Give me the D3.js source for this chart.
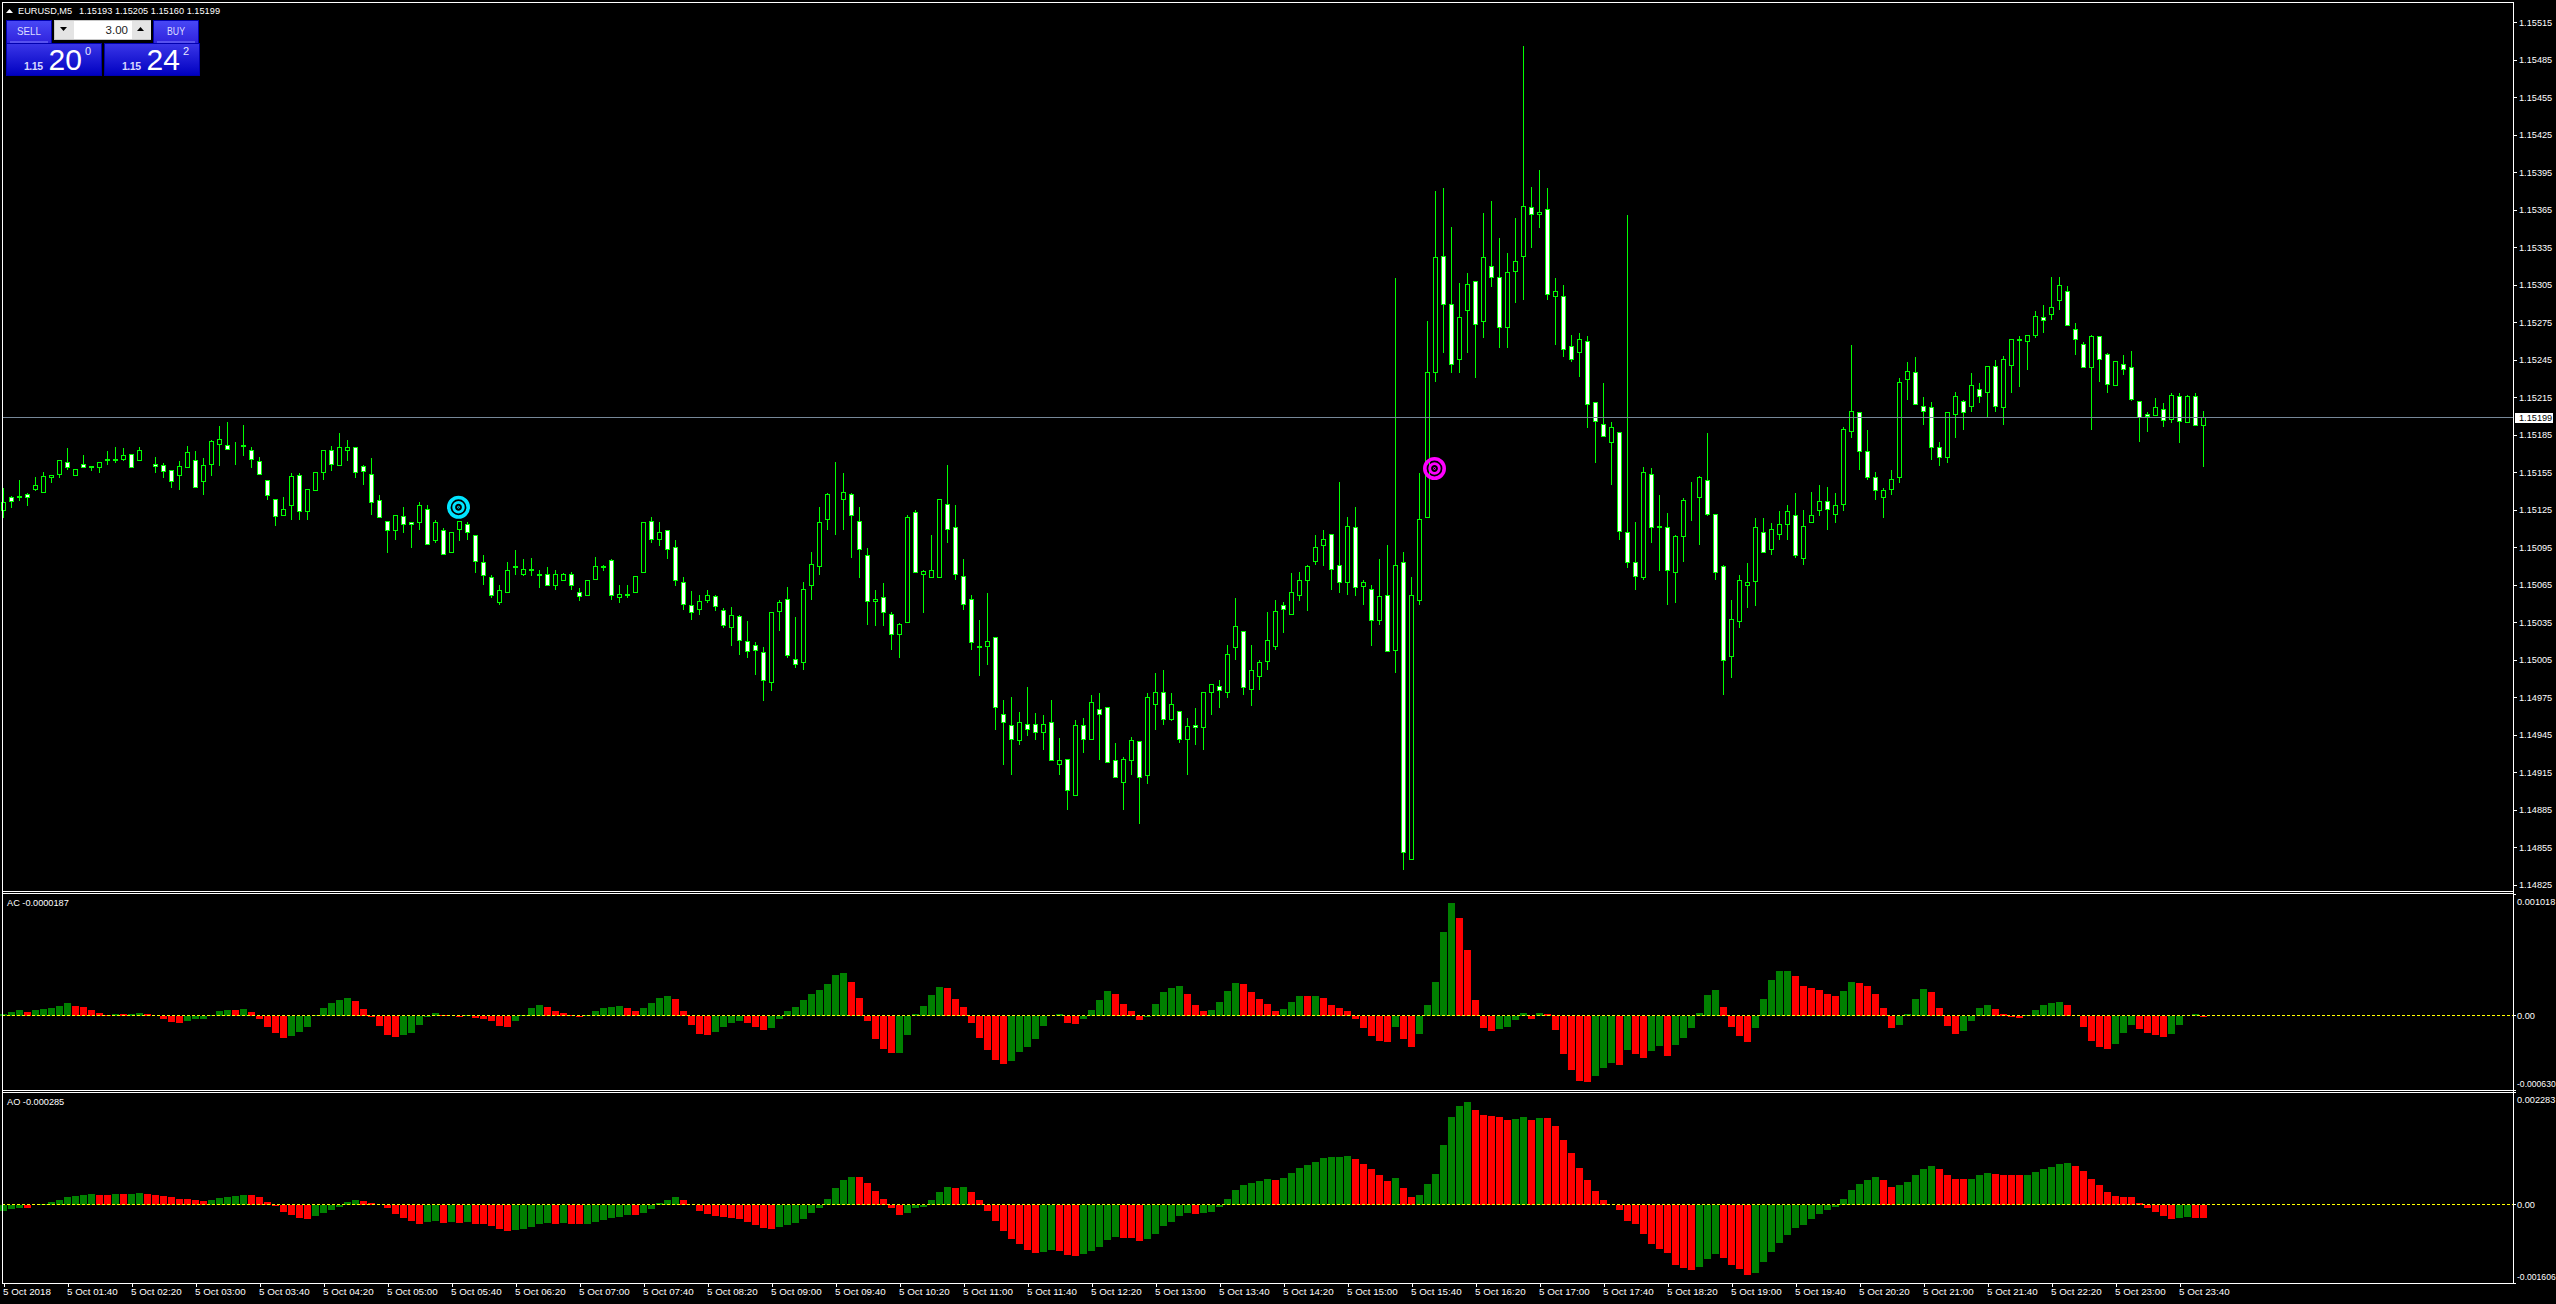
<!DOCTYPE html>
<html>
<head>
<meta charset="utf-8">
<title>EURUSD,M5</title>
<script src="https://cdn.jsdelivr.net/npm/d3@7"></script>
<style>
  html, body { margin: 0; padding: 0; background: #000; overflow: hidden; }
  text { font-family: "Liberation Sans", Arial, sans-serif; fill: #fff; }
  .axis text { font-size: 9.2px; }
  .timeaxis text { font-size: 9.8px; }
</style>
</head>
<body>
<div id="chart"></div>
<script>
// prices are in points above 1.15000, one value per M5 bar
const opens = [
  125,135,135,138,142,139,151,154,163,153, 162,159,159,165,165,166,170,165,168,162,
  161,157,153,159,165,148,162,178,177,175, 176,173,164,149,134,121,129,153,124,141,
  155,173,161,173,175,160,154,133,116,109, 120,115,115,126,101,109,91,110,114,105,
  83,71,51,59,79,74,77,73,74,65, 69,74,59,57,70,79,85,55,57,59,
  75,116,102,109,95,67,49,46,53,56, 45,31,40,20,17,11,-13,44,54,6,
  3,65,80,118,133,134,138,116,89,52, 55,42,26,35,123,74,71,71,130,111,
  72,54,15,16,23,-38,-47,-59,-46,-46, -53,-45,-78,-74,-103,-47,-58,-34,-33,-75,
  -93,-75,-60,-87,-30,-21,-42,-36,-58,-47, -49,-21,-16,-21,15,28,-18,-8,4,16,
  49,42,57,69,84,97,106,81,67,111, 64,62,37,57,13,83,-154,53,119,235,
  328,290,246,285,308,276,320,311,271,316, 328,367,362,366,296,296,256,251,260,211,
  194,179,187,107,83,71,154,111,111,75, 104,138,135,149,122,80,8,36,65,68,
  107,94,106,114,121,86,115,125,132,122, 130,188,203,172,151,135,142,151,230,235,
  208,207,175,167,202,212,208,222,219,240, 207,241,262,260,265,279,282,293,300,270,
  258,239,264,250,225,242,239,212,202,201, 206,198,216,195,216,193
];
const highs = [
  143,137,150,139,152,156,154,165,175,158, 170,160,164,173,176,175,170,176,168,168,
  163,158,165,177,173,167,182,193,196,180, 194,176,168,149,134,136,155,155,142,155,
  173,177,187,182,175,162,167,138,116,121, 128,115,132,130,118,111,107,116,116,105,
  90,74,66,84,94,86,87,78,80,78, 75,76,63,69,88,82,86,66,66,72,
  116,120,116,109,102,72,61,58,62,58, 47,48,42,37,20,16,44,54,64,40,
  68,92,128,139,164,155,139,128,95,62, 67,44,35,122,126,78,106,134,162,130,
  86,58,38,59,23,-26,-24,-36,-16,-37, -38,-26,-57,-74,-42,-41,-22,-21,-32,-61,
  -72,-56,-60,-21,-5,-2,-21,-36,-41,-33, -21,-14,-10,18,55,29,18,6,44,54,
  52,75,76,82,106,110,106,148,120,128, 70,66,86,98,311,92,72,155,277,381,
  383,352,307,315,308,363,373,343,331,359, 497,384,398,383,311,306,266,267,265,211,
  227,196,187,362,116,160,159,138,123,106, 135,148,153,187,122,82,54,74,83,119,
  119,115,125,130,139,126,140,146,144,139, 192,258,203,190,156,143,158,231,244,248,
  216,212,180,203,220,214,235,227,241,246, 249,262,265,266,285,290,312,312,305,275,
  260,266,264,251,244,250,253,213,204,215, 211,219,219,218,219,205
];
const lows = [
  119,127,133,129,141,139,147,151,158,153, 159,157,155,162,163,165,159,165,168,155,
  151,143,142,159,143,138,153,161,174,162, 169,159,154,134,113,121,118,118,118,141,
  150,157,161,165,151,146,122,119,91,102, 107,95,110,98,99,90,91,101,102,75,
  66,55,50,59,74,73,73,63,65,62, 69,62,53,57,70,77,54,51,55,59,
  75,99,97,86,65,46,38,42,51,45, 31,17,10,7,-6,-27,-19,29,7,-1,
  -2,54,74,110,106,110,87,71,34,33, 33,14,7,35,75,43,71,71,99,70,
  46,14,-7,2,-50,-78,-86,-62,-55,-58, -66,-75,-86,-114,-103,-69,-58,-74,-77,-89,
  -114,-86,-126,-94,-50,-46,-43,-61,-86,-62, -66,-38,-33,-25,6,-22,-31,-18,-2,14,
  27,42,53,45,82,81,62,59,58,57, 50,17,34,12,-5,-162,-154,50,119,228,
  251,235,235,251,231,263,304,255,255,291, 294,335,351,294,258,248,244,232,191,163,
  184,146,102,79,62,70,99,77,50,51, 84,117,98,121,70,-22,-9,31,47,49,
  91,90,102,102,87,82,115,121,110,115, 125,183,158,150,134,119,138,147,214,210,
  194,166,161,163,183,190,204,211,199,204, 194,219,224,238,263,267,278,286,273,250,
  239,190,228,219,225,234,213,180,188,201, 192,195,179,195,193,160
];
const closes = [
  131,132,136,135,145,152,153,165,159,158, 159,160,163,166,166,169,159,173,168,160,
  156,148,160,171,143,161,180,182,174,175, 177,166,154,137,120,126,152,124,142,155,
  173,162,175,175,155,156,131,119,109,121, 114,114,129,98,115,90,107,116,107,84,
  73,57,61,77,80,78,78,74,65,74, 74,65,56,69,80,80,57,58,58,72,
  115,102,107,94,69,50,43,52,57,48, 33,41,21,12,13,-11,43,51,9,2,
  62,82,115,138,133,139,121,94,52,54, 43,26,34,119,75,76,77,134,110,74,
  50,19,16,20,-33,-45,-58,-45,-50,-53, -46,-75,-75,-99,-47,-58,-29,-38,-77,-89,
  -74,-59,-89,-25,-21,-42,-30,-58,-48,-49, -21,-14,-19,10,32,-17,-3,3,21,44,
  46,59,69,80,95,102,78,67,112,63, 67,37,56,12,81,-149,57,118,235,327,
  290,242,279,306,274,327,311,271,315,324, 368,362,363,298,300,254,246,262,210,196,
  184,191,108,83,72,155,111,112,77,104, 133,138,151,122,75,5,38,69,67,111,
  91,110,114,124,89,112,121,132,126,129, 190,204,172,151,141,141,150,227,236,210,
  204,175,167,203,216,203,225,216,240,208, 246,262,261,265,280,277,287,305,273,262,
  239,264,246,226,244,238,214,199,200,207, 197,217,196,216,193,199
];

// indicator values, in millionths
const acValues = [
  6,28,45,28,45,53,62,78,104,78, 70,45,20,3,11,8,11,20,11,-11,
  -36,-56,-64,-48,-36,-34,0,36,45,44, 53,28,-31,-98,-148,-190,-174,-140,-98,0,
  62,104,129,146,120,53,-14,-90,-168,-182, -165,-148,-81,-14,20,-3,-4,-14,0,-22,
  -31,-48,-90,-98,-48,0,62,87,70,36, 20,3,-14,0,36,62,70,78,62,36,
  62,104,146,162,137,36,-81,-157,-165,-140, -98,-64,-48,-64,-98,-123,-106,-31,36,70,
  129,179,213,263,339,356,280,146,-48,-199, -283,-316,-315,-165,11,78,171,238,230,137,
  70,-64,-190,-291,-375,-409,-384,-308,-266,-199, -90,-11,11,-64,-73,-31,45,129,204,179,
  95,36,-39,-20,95,196,230,246,179,87, 36,45,112,204,272,263,196,137,95,36,
  53,112,162,160,162,146,87,62,36,-31, -106,-174,-216,-224,-98,-199,-266,-157,87,280,
  700,944,818,549,129,-106,-132,-115,-98,-39, 20,-31,20,11,-123,-325,-459,-552,-560,-510,
  -442,-400,-417,-291,-325,-358,-300,-258,-342,-249, -190,-106,20,171,213,70,-98,-174,-224,-106,
  137,297,372,373,330,246,230,213,179,162, 204,280,272,246,179,62,-106,-81,11,137,
  221,196,62,-90,-157,-132,-48,62,87,53, 11,-20,-21,0,45,87,104,112,87,-11,
  -98,-216,-266,-283,-241,-148,-81,-115,-148,-165, -182,-157,-81,-11,11,-19
];
const aoValues = [
  -136,-95,-75,-76,-20,7,48,88,149,170, 190,210,190,183,210,204,210,231,210,190,
  170,149,109,102,88,68,88,129,149,156, 190,183,149,48,-48,-156,-217,-278,-299,-238,
  -177,-115,-54,48,88,68,27,-14,-75,-197, -278,-340,-401,-360,-353,-380,-373,-380,-373,-401,
  -407,-441,-502,-543,-536,-502,-462,-401,-394,-401, -394,-401,-407,-401,-360,-319,-278,-258,-217,-224,
  -177,-95,20,88,149,88,-20,-136,-197,-238, -258,-278,-306,-360,-421,-482,-502,-462,-421,-380,
  -299,-177,-75,109,333,496,557,550,435,272, 109,-75,-217,-177,-75,-54,88,251,353,333,
  340,251,88,-136,-340,-543,-706,-808,-930,-991, -971,-930,-951,-1032,-1052,-1012,-951,-869,-727,-665,
  -686,-693,-747,-706,-604,-441,-360,-238,-190,-197, -190,-156,-54,109,292,394,435,475,516,496,
  536,638,740,801,862,944,951,964,971,923, 822,720,598,475,536,333,149,190,414,618,
  1209,1779,2003,2085,1922,1820,1799,1779,1718,1738, 1779,1718,1759,1752,1596,1310,1046,740,496,272,
  88,-20,-115,-340,-401,-604,-808,-910,-991,-1236, -1297,-1338,-1277,-1114,-1012,-1093,-1236,-1317,-1439,-1399,
  -1175,-971,-788,-625,-482,-421,-299,-197,-115,-54, 109,292,414,496,557,496,353,394,455,598,
  720,781,720,598,516,502,516,598,638,618, 598,591,584,598,659,720,760,822,842,781,
  679,516,394,251,170,149,143,20,-75,-156, -238,-299,-292,-258,-275,-285
];

const priceTicks = [515,485,455,425,395,365,335,305,275,245,215,185,155,125,95,65,35,5,-25,-55,-85,-115,-145,-175];
const timeTicks = [0,8,16,24,32,40,48,56,64,72,80,88,96,104,112,120,128,136,144,152,160,168,176,184,192,200,208,216,224,232,240,248,256,264,272];
const timeLabels = ['5 Oct 2018','5 Oct 01:40','5 Oct 02:20','5 Oct 03:00','5 Oct 03:40','5 Oct 04:20','5 Oct 05:00','5 Oct 05:40','5 Oct 06:20','5 Oct 07:00','5 Oct 07:40','5 Oct 08:20','5 Oct 09:00','5 Oct 09:40','5 Oct 10:20','5 Oct 11:00','5 Oct 11:40','5 Oct 12:20','5 Oct 13:00','5 Oct 13:40','5 Oct 14:20','5 Oct 15:00','5 Oct 15:40','5 Oct 16:20','5 Oct 17:00','5 Oct 17:40','5 Oct 18:20','5 Oct 19:00','5 Oct 19:40','5 Oct 20:20','5 Oct 21:00','5 Oct 21:40','5 Oct 22:20','5 Oct 23:00','5 Oct 23:40'];
const bidPoints = 199;
const targetBars = [57, 179];
const targetPoints = [127, 158];
const targetColors = ['#00e5ff', '#ff00ff'];

const width = 2556, height = 1304;
const plotLeft = 2, plotRight = 2513;

const svg = d3.select('#chart').append('svg')
  .attr('width', width)
  .attr('height', height)
  .style('display', 'block');

const x = d3.scaleLinear().domain([0, 276]).range([3.5, 3.5 + 8 * 276]);
const yMain = d3.scaleLinear().domain([-180, 531.2]).range([891, 2]);
const yAc = d3.scaleLinear().domain([-630, 1018]).range([1090, 894]);
const yAo = d3.scaleLinear().domain([-1606, 2283]).range([1283, 1092]);

const snap = v => Math.round(v) + 0.5;
const priceLabel = p => ((115000 + p) / 100000).toFixed(5);

// candles: wick first, body on top of it
const candles = svg.append('g').selectAll('g')
  .data(d3.range(opens.length))
  .join('g');
candles.append('line')
  .attr('x1', x).attr('x2', x)
  .attr('y1', i => snap(yMain(highs[i])))
  .attr('y2', i => snap(yMain(lows[i])) + 0.5)
  .attr('stroke', '#00ff00')
  .attr('shape-rendering', 'crispEdges');
candles.append('rect')
  .attr('x', i => x(i) - 2)
  .attr('width', 4)
  .attr('y', i => snap(yMain(Math.max(opens[i], closes[i]))))
  .attr('height', i => Math.round(yMain(Math.min(opens[i], closes[i]))) - Math.round(yMain(Math.max(opens[i], closes[i]))))
  .attr('fill', i => closes[i] < opens[i] ? '#fff' : '#000')
  .attr('stroke', '#00ff00')
  .attr('shape-rendering', 'crispEdges');

// bid line
svg.append('line')
  .attr('x1', plotLeft).attr('x2', plotRight)
  .attr('y1', snap(yMain(bidPoints))).attr('y2', snap(yMain(bidPoints)))
  .attr('stroke', '#778899');

// target objects on the chart
targetBars.forEach((bar, i) => {
  const t = svg.append('g')
    .attr('transform', `translate(${x(bar) - 1},${yMain(targetPoints[i])})`)
    .attr('fill', 'none')
    .attr('stroke', targetColors[i]);
  t.append('circle').attr('r', 9.7).attr('stroke-width', 3.6);
  t.append('circle').attr('r', 4.8).attr('stroke-width', 2.8);
  t.append('circle').attr('r', 1).attr('stroke-width', 1);
});

// AC and AO histograms, bar colour follows the direction of the value
function drawHistogram(values, y) {
  const zero = snap(y(0));
  svg.append('g').selectAll('rect')
    .data(values)
    .join('rect')
    .attr('x', (d, i) => x(i) - 3.5)
    .attr('width', 7)
    .attr('y', d => Math.min(Math.round(y(d)), zero))
    .attr('height', d => Math.abs(Math.round(y(d)) - zero))
    .attr('fill', (d, i) => (i === 0 || d > values[i - 1]) ? '#008000' : '#ff0000')
    .attr('shape-rendering', 'crispEdges');
  svg.append('line')
    .attr('x1', plotLeft).attr('x2', plotRight)
    .attr('y1', zero).attr('y2', zero)
    .attr('stroke', '#ffff00')
    .attr('stroke-dasharray', '3 2');
}
drawHistogram(acValues, yAc);
drawHistogram(aoValues, yAo);

// window frames
[2, 891, 893, 1090, 1092, 1283].forEach(v => {
  svg.append('line')
    .attr('x1', plotLeft).attr('x2', plotRight)
    .attr('y1', v + 0.5).attr('y2', v + 0.5)
    .attr('stroke', '#fff');
});
[plotLeft, plotRight].forEach(v => {
  svg.append('line')
    .attr('x1', v + 0.5).attr('x2', v + 0.5)
    .attr('y1', 2).attr('y2', 1284)
    .attr('stroke', '#fff');
});

// axes
function styleAxis(g) {
  g.select('.domain').remove();
  g.selectAll('.tick line').attr('stroke', '#fff').attr('shape-rendering', 'crispEdges');
  g.selectAll('.tick text').attr('fill', '#fff').style('fill', '#fff');
}

svg.append('g')
  .attr('class', 'axis')
  .attr('transform', `translate(${plotRight + 1},0)`)
  .call(d3.axisRight(yMain).tickValues(priceTicks).tickFormat(priceLabel).tickSize(3).tickPadding(2))
  .call(styleAxis);

function indicatorAxis(y, top, bottom) {
  const g = svg.append('g')
    .attr('class', 'axis')
    .attr('transform', `translate(${plotRight + 1},0)`)
    .call(d3.axisRight(y)
      .tickValues([top, 0, bottom])
      .tickFormat(v => v === 0 ? '0.00' : (v / 1e6).toFixed(6))
      .tickSize(2).tickPadding(1))
    .call(styleAxis);
  // first and last labels sit inside the window, the long negative one is a bit smaller to fit
  g.selectAll('.tick text')
    .attr('dy', v => v === top ? '1.1em' : v === bottom ? '-0.4em' : '0.32em')
    .style('font-size', v => v === bottom ? '8.6px' : null);
}
indicatorAxis(yAc, 1018, -630);
indicatorAxis(yAo, 2283, -1606);

svg.append('g')
  .attr('class', 'timeaxis')
  .attr('transform', 'translate(0,1283)')
  .call(d3.axisBottom(x)
    .tickValues(timeTicks)
    .tickFormat((d, i) => timeLabels[i])
    .tickSize(4).tickPadding(1))
  .call(styleAxis)
  .selectAll('.tick text')
  .attr('text-anchor', 'start')
  .attr('x', -1);

// bid label on the price axis
svg.append('rect')
  .attr('x', 2515).attr('y', 413)
  .attr('width', 38).attr('height', 10)
  .attr('fill', '#fff');
svg.append('text')
  .attr('x', 2519).attr('y', yMain(bidPoints) + 3.4)
  .style('font-size', '9.2px')
  .style('fill', '#000')
  .text(priceLabel(bidPoints));

// window headers
svg.append('path')
  .attr('d', 'M6,13 L9.5,9 L13,13 Z')
  .attr('fill', '#fff');
svg.append('text')
  .attr('x', 18).attr('y', 14)
  .style('font-size', '9.2px')
  .text('EURUSD,M5');
svg.append('text')
  .attr('x', 79).attr('y', 14)
  .style('font-size', '9.2px')
  .attr('textLength', 141)
  .text('1.15193 1.15205 1.15160 1.15199');
svg.append('text')
  .attr('x', 7).attr('y', 905.5)
  .style('font-size', '9.2px')
  .text('AC -0.0000187');
svg.append('text')
  .attr('x', 7).attr('y', 1105)
  .style('font-size', '9.2px')
  .text('AO -0.000285');

// one click trading panel
const defs = svg.append('defs');
function gradient(id, top, bottom) {
  const g = defs.append('linearGradient').attr('id', id).attr('x1', 0).attr('y1', 0).attr('x2', 0).attr('y2', 1);
  g.append('stop').attr('offset', 0).attr('stop-color', top);
  g.append('stop').attr('offset', 1).attr('stop-color', bottom);
}
gradient('headGrad', '#4848f6', '#2f22dc');
gradient('quoteGrad', '#3a36e8', '#0000c0');

const panel = svg.append('g');
function tradeHead(left, label) {
  panel.append('rect')
    .attr('x', left + 0.5).attr('y', 20.5)
    .attr('width', 45).attr('height', 23)
    .attr('fill', 'url(#headGrad)')
    .attr('stroke', '#0000b0');
  panel.append('line')
    .attr('x1', left + 4).attr('x2', left + 42)
    .attr('y1', 42).attr('y2', 42)
    .attr('stroke', '#8080ff');
  panel.append('text')
    .attr('x', left + 23).attr('y', 35)
    .attr('text-anchor', 'middle')
    .style('font-size', '11.5px')
    .style('fill', '#dcdcff')
    .attr('textLength', label.length * 6)
    .attr('lengthAdjust', 'spacingAndGlyphs')
    .text(label);
}
tradeHead(6, 'SELL');
tradeHead(153, 'BUY');

function quote(left, big, small) {
  panel.append('rect')
    .attr('x', left + 0.5).attr('y', 43.5)
    .attr('width', 95).attr('height', 32)
    .attr('fill', 'url(#quoteGrad)')
    .attr('stroke', '#0000b0');
  panel.append('text')
    .attr('x', left + 18).attr('y', 70)
    .style('font-size', '10.5px')
    .style('font-weight', 'bold')
    .style('fill', '#d8d8ff')
    .attr('textLength', 19)
    .text('1.15');
  panel.append('text')
    .attr('x', left + 42.5).attr('y', 70)
    .style('font-size', '30px')
    .text(big);
  panel.append('text')
    .attr('x', left + 79).attr('y', 55)
    .style('font-size', '11px')
    .style('fill', '#e8e8ff')
    .text(small);
}
quote(6, '20', '0');
quote(104, '24', '2');

panel.append('rect')
  .attr('x', 54.5).attr('y', 20.5)
  .attr('width', 96).attr('height', 19)
  .attr('fill', '#fff')
  .attr('stroke', '#c8c8c8');
[[55, '#e4e4e4', 'M60,27 L67,27 L63.5,31 Z'], [132, '#e4e4e4', 'M137,31 L144,31 L140.5,27 Z']].forEach(b => {
  panel.append('rect')
    .attr('x', b[0]).attr('y', 21)
    .attr('width', 19).attr('height', 18)
    .attr('fill', b[1]);
  panel.append('path').attr('d', b[2]).attr('fill', '#000');
});
panel.append('text')
  .attr('x', 128).attr('y', 34)
  .attr('text-anchor', 'end')
  .style('font-size', '11.5px')
  .style('fill', '#222')
  .text('3.00');
</script>
</body>
</html>
